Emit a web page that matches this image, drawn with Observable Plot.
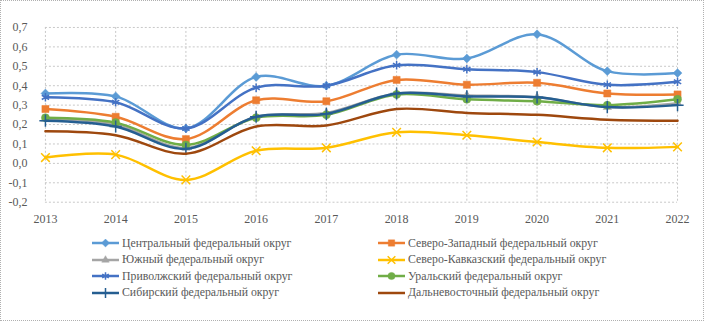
<!DOCTYPE html>
<html>
<head>
<meta charset="utf-8">
<script src="https://cdn.jsdelivr.net/npm/d3@7"></script>
<script src="https://cdn.jsdelivr.net/npm/@observablehq/plot@0.6"></script>
<style>
  html, body { margin: 0; padding: 0; background: #fff; }
  #wrap { position: relative; width: 704px; height: 321px; box-sizing: border-box; border: 1px dotted #b0b0b0; overflow: hidden; font-family: "Liberation Serif", "Times New Roman", serif; }
  #chart { position: absolute; left: -1px; top: -1px; }
  #legend { position: absolute; left: 0; top: 234px; width: 704px; font-size: 11.8px; color: #595959; }
  .item { position: absolute; display: flex; align-items: center; white-space: nowrap; height: 16px; }
  .item svg { margin-right: 2px; }
</style>
</head>
<body>
<div id="wrap"><div id="chart"></div><div id="legend"></div></div>
<script>
const years = [2013, 2014, 2015, 2016, 2017, 2018, 2019, 2020, 2021, 2022];
const yTicks = [-0.2, -0.1, 0, 0.1, 0.2, 0.3, 0.4, 0.5, 0.6, 0.7];

const seriesNames = [
  "Центральный федеральный округ",
  "Северо-Западный федеральный округ",
  "Южный федеральный округ",
  "Северо-Кавказский федеральный округ",
  "Приволжский федеральный округ",
  "Уральский федеральный округ",
  "Сибирский федеральный округ",
  "Дальневосточный федеральный округ"
];

const central      = [0.36, 0.345, 0.18, 0.445, 0.40, 0.56, 0.54, 0.665, 0.475, 0.465];
const northWest    = [0.28, 0.24, 0.125, 0.325, 0.32, 0.43, 0.405, 0.415, 0.36, 0.355];
const southern     = [0.23, 0.20, 0.08, 0.24, 0.26, 0.36, 0.35, 0.34, 0.29, 0.31];
const northCauc    = [0.03, 0.045, -0.085, 0.065, 0.08, 0.16, 0.145, 0.11, 0.08, 0.085];
const volga        = [0.34, 0.315, 0.18, 0.39, 0.40, 0.505, 0.485, 0.47, 0.405, 0.42];
const ural         = [0.235, 0.21, 0.095, 0.235, 0.25, 0.355, 0.33, 0.32, 0.30, 0.33];
const siberian     = [0.22, 0.19, 0.075, 0.24, 0.255, 0.36, 0.345, 0.34, 0.29, 0.30];
const farEast      = [0.165, 0.145, 0.05, 0.19, 0.195, 0.28, 0.26, 0.25, 0.225, 0.22];

const seriesValues = [central, northWest, southern, northCauc, volga, ural, siberian, farEast];
const colors  = ["#5B9BD5", "#ED7D31", "#A5A5A5", "#FFC000", "#4472C4", "#70AD47", "#255E91", "#9E480E"];
const symbols = ["diamond2", "square", "triangle2", "times", "asterisk", "circle", "plus", null];
const filled  = [true, true, true, false, false, true, false, false];

const fmt = d => d.toFixed(1).replace(".", ",");

const marks = [
  Plot.gridY(yTicks, {stroke: "#c8c8c8", strokeOpacity: 1, strokeDasharray: "2,2"}),
  Plot.gridX(years, {stroke: "#c8c8c8", strokeOpacity: 1, strokeDasharray: "2,2"}),
  Plot.axisY(yTicks, {tickSize: 0, tickPadding: 18, tickFormat: fmt, fontSize: 12, fill: "#595959", label: null}),
  Plot.axisX(years, {tickSize: 0, tickPadding: 12, tickFormat: d => String(d), fontSize: 12, fill: "#595959", label: null})
];

seriesValues.forEach((vals, i) => {
  const data = years.map((y, j) => ({year: y, value: vals[j]}));
  marks.push(Plot.line(data, {x: "year", y: "value", stroke: colors[i], strokeWidth: 2.5, curve: "catmull-rom"}));
  if (symbols[i]) {
    marks.push(Plot.dot(data, {
      x: "year", y: "value", symbol: symbols[i], r: 4,
      fill: filled[i] ? colors[i] : "none",
      stroke: colors[i], strokeWidth: filled[i] ? 0.5 : 1.5
    }));
  }
});

const chart = Plot.plot({
  width: 704,
  height: 230,
  marginLeft: 45,
  marginRight: 26,
  marginTop: 27,
  marginBottom: 28,
  style: {fontFamily: '"Liberation Serif", "Times New Roman", serif', background: "transparent"},
  x: {domain: [2013, 2022], axis: null, label: null},
  y: {domain: [-0.2, 0.7], axis: null, label: null},
  marks
});
document.getElementById("chart").appendChild(chart);

// Legend
const legend = document.getElementById("legend");
const colX = [91, 377];
const rowY = [0, 16.5, 33, 49.5];
seriesNames.forEach((name, i) => {
  const col = i % 2, row = Math.floor(i / 2);
  const item = document.createElement("div");
  item.className = "item";
  item.style.left = colX[col] + "px";
  item.style.top = rowY[row] + "px";
  const svg = d3.create("svg").attr("width", 28).attr("height", 10);
  svg.append("line").attr("x1", 0).attr("x2", 27).attr("y1", 5).attr("y2", 5)
    .attr("stroke", colors[i]).attr("stroke-width", 2.5);
  if (symbols[i]) {
    const typeMap = {diamond2: d3.symbolDiamond2, square: d3.symbolSquare, triangle2: d3.symbolTriangle2,
      times: d3.symbolTimes, asterisk: d3.symbolAsterisk, circle: d3.symbolCircle, plus: d3.symbolPlus};
    svg.append("path").attr("transform", "translate(13.5,5)")
      .attr("d", d3.symbol(typeMap[symbols[i]], 40)())
      .attr("fill", filled[i] ? colors[i] : "none")
      .attr("stroke", colors[i]).attr("stroke-width", filled[i] ? 0.5 : 1.5);
  }
  item.appendChild(svg.node());
  const span = document.createElement("span");
  span.textContent = name;
  item.appendChild(span);
  legend.appendChild(item);
});
</script>
</body>
</html>
